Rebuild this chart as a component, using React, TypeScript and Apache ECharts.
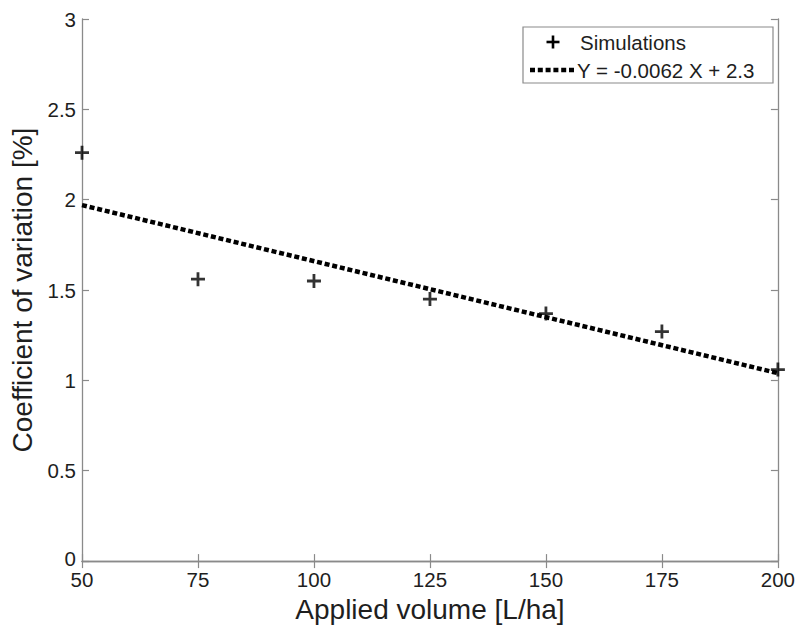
import React, { useEffect, useRef } from "react";
import * as echarts from "echarts";

const appliedVolume = [50, 75, 100, 125, 150, 175, 200];
const simulations = [2.26, 1.56, 1.55, 1.45, 1.37, 1.27, 1.06];
const fitX = [50, 200];
const fitY = [1.97, 1.04];
const xTicks = { min: 50, max: 200, interval: 25 };
const yTicks = { min: 0, max: 3, interval: 0.5 };
const legendLabels = ["Simulations", "Y = -0.0062 X + 2.3"];
const xName = "Applied volume [L/ha]";
const yName = "Coefficient of variation [%]";

const FONT = "'Liberation Sans', Arial, Helvetica, sans-serif";
const AXIS_COLOR = "#8a8a8a";
const TEXT_COLOR = "#1e1e1e";
const PLUS = "path://M4,0H6V4H10V6H6V10H4V6H0V4H4Z";

export default function App() {
  const ref = useRef<HTMLDivElement>(null);
  useEffect(() => {
    if (!ref.current) return;
    const chart = echarts.init(ref.current, null, { renderer: "svg" });
    const axisLine = { show: true, lineStyle: { color: AXIS_COLOR, width: 1.3 } };
    const tick = { show: true, inside: true, length: 7, lineStyle: { color: AXIS_COLOR, width: 1.2 } };
    const labelStyle = { color: TEXT_COLOR, fontSize: 20.5, fontFamily: FONT };
    chart.setOption({
      animation: false,
      backgroundColor: "#fff",
      grid: { left: 82, top: 19, right: 17, bottom: 60, containLabel: false },
      xAxis: [
        {
          type: "value",
          ...xTicks,
          position: "bottom",
          axisLine,
          axisTick: tick,
          splitLine: { show: false },
          axisLabel: { ...labelStyle, lineHeight: 15, margin: 11 },
          name: xName,
          nameLocation: "middle",
          nameGap: 30,
          nameTextStyle: { color: TEXT_COLOR, fontSize: 28, fontFamily: FONT, verticalAlign: "top" },
        },
        {
          type: "value",
          ...xTicks,
          position: "top",
          axisLine,
          axisTick: tick,
          splitLine: { show: false },
          axisLabel: { show: false },
        },
      ],
      yAxis: [
        {
          type: "value",
          ...yTicks,
          position: "left",
          axisLine,
          axisTick: tick,
          splitLine: { show: false },
          axisLabel: {
            ...labelStyle,
            lineHeight: 15,
            margin: 6,
            formatter: (v: number) => (v === 0 ? "{z|0}" : String(v)),
            rich: { z: { ...labelStyle, lineHeight: 15, padding: [0, 0, 6, 0] } },
          },
          name: yName,
          nameLocation: "middle",
          nameGap: 45,
          nameTextStyle: { color: TEXT_COLOR, fontSize: 28, fontFamily: FONT },
        },
        {
          type: "value",
          ...yTicks,
          position: "right",
          axisLine,
          axisTick: tick,
          splitLine: { show: false },
          axisLabel: { show: false },
        },
      ],
      series: [
        {
          name: legendLabels[1],
          type: "line",
          xAxisIndex: 0,
          yAxisIndex: 0,
          data: fitX.map((x, i) => [x, fitY[i]]),
          symbol: "none",
          lineStyle: { color: "#000", width: 4.5, type: [5, 2.8], cap: "butt" },
          z: 2,
        },
        {
          name: legendLabels[0],
          type: "scatter",
          xAxisIndex: 0,
          yAxisIndex: 0,
          data: appliedVolume.map((x, i) => [x, simulations[i]]),
          symbol: PLUS,
          symbolSize: 14,
          itemStyle: { color: "#000" },
          clip: false,
          z: 3,
        },
      ],
      graphic: [
        {
          type: "rect",
          shape: { x: 523, y: 27, width: 250, height: 56 },
          style: { fill: "#fff", stroke: "#8a8a8a", lineWidth: 1.2 },
          z: 10,
        },
        {
          type: "rect",
          shape: { x: 546.5, y: 40.7, width: 13, height: 2.6 },
          style: { fill: "#000" },
          z: 11,
        },
        {
          type: "rect",
          shape: { x: 551.7, y: 35.5, width: 2.6, height: 13 },
          style: { fill: "#000" },
          z: 11,
        },
        {
          type: "text",
          x: 580,
          y: 42,
          style: { text: legendLabels[0], fill: TEXT_COLOR, fontSize: 20.5, fontFamily: FONT, verticalAlign: "middle" },
          z: 11,
        },
        {
          type: "line",
          shape: { x1: 530, y1: 70, x2: 575, y2: 70 },
          style: { stroke: "#000", lineWidth: 4.5, lineDash: [5, 2.8] },
          z: 11,
        },
        {
          type: "text",
          x: 577,
          y: 70,
          style: { text: legendLabels[1], fill: TEXT_COLOR, fontSize: 20.5, fontFamily: FONT, verticalAlign: "middle" },
          z: 11,
        },
      ],
    });
    return () => chart.dispose();
  }, []);
  return (
    <div
      ref={ref}
      style={{ position: "fixed", left: 0, top: 0, width: 798, height: 628, background: "#fff" }}
    />
  );
}
